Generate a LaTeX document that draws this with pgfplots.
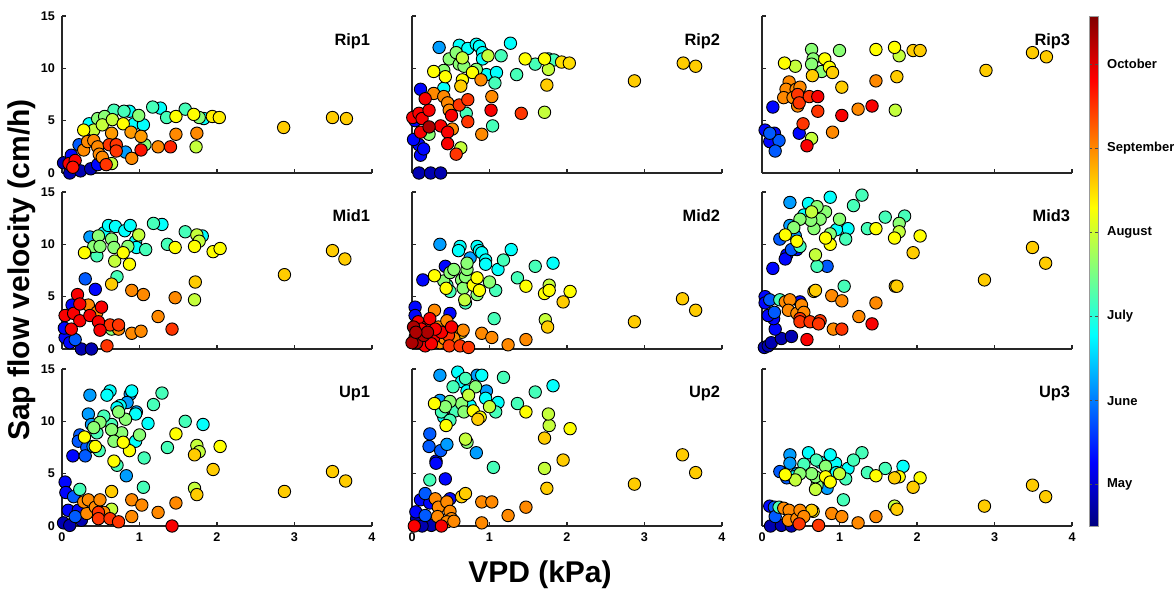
\documentclass[border=0pt]{standalone}
\usepackage{pgfplots}
\usepackage{pgfplotstable}
\pgfplotsset{compat=1.18}
\usepackage{fontspec}
\setmainfont{Liberation Sans}

\pgfplotstableread[row sep=\\]{x y c\\
0.02 0.97 -0.2\\ 0.10 0.00 -0.2\\ 0.24 0.20 -0.2\\ 0.37 0.40 -0.2\\ 0.12 1.70 0.3\\ 0.46 0.80 0.3\\
0.22 2.70 0.8\\ 0.82 2.00 1.2\\ 0.35 4.70 1.8\\ 0.93 4.70 1.8\\ 1.05 4.60 1.8\\ 0.87 5.90 1.8\\ 1.27 6.20 1.8\\ 1.83 5.20 1.8\\
0.67 6.00 2.2\\ 0.80 5.90 2.2\\ 1.17 6.30 2.2\\ 1.35 5.30 2.2\\ 1.59 6.10 2.2\\
0.46 5.20 2.6\\ 0.55 5.40 2.6\\ 0.99 5.50 2.6\\ 1.77 5.30 2.6\\ 1.07 2.70 2.6\\
0.41 4.10 2.95\\ 0.52 4.60 2.95\\ 0.65 5.10 2.95\\ 0.64 0.90 2.95\\ 1.73 2.50 2.95\\
0.28 4.10 3.3\\ 0.79 4.70 3.3\\ 1.47 5.40 3.3\\ 1.70 5.60 3.3\\ 1.94 5.40 3.4\\ 2.03 5.30 3.4\\
2.86 4.35 3.6\\ 3.49 5.30 3.6\\ 3.67 5.20 3.6\\
0.28 2.20 4.0\\ 0.33 3.00 4.0\\ 0.41 3.10 4.0\\ 0.46 2.50 4.0\\ 0.48 1.80 4.0\\ 0.52 1.50 4.0\\ 0.64 3.80 3.9\\
0.90 1.40 4.0\\ 0.89 3.90 3.9\\ 1.02 3.50 3.9\\ 1.24 2.50 4.0\\ 1.47 3.70 4.0\\ 1.74 3.80 4.0\\
0.57 0.80 4.5\\ 0.61 2.70 4.5\\ 0.70 2.70 4.5\\ 0.70 2.10 4.5\\ 1.02 2.20 4.7\\ 1.40 2.50 4.6\\
0.09 0.90 4.85\\ 0.17 1.20 4.85\\ 0.14 0.55 4.7\\
}\ripone

\pgfplotstableread[row sep=\\]{x y c\\
0.09 0 -0.2\\ 0.24 0 -0.2\\ 0.37 0 -0.2\\
0.11 1.7 0.3\\ 0.09 2.7 0.3\\ 0.02 3.2 0.3\\ 0.15 2.3 0.3\\ 0.04 5.0 0.3\\ 0.11 8.0 0.3\\
0.35 12.0 1.2\\
0.41 8.1 1.8\\ 0.61 12.2 1.8\\ 0.72 11.9 1.8\\ 0.83 12.3 1.8\\ 0.87 12.1 1.8\\ 0.91 11.5 1.8\\ 0.91 10.9 1.8\\ 0.96 9.4 1.8\\ 1.09 9.6 1.8\\ 1.27 12.4 1.8\\
0.70 5.7 2.2\\ 1.04 4.5 2.2\\ 1.07 8.6 2.2\\ 1.15 11.2 2.2\\ 1.35 9.4 2.2\\ 1.59 10.4 2.2\\ 1.76 10.9 2.2\\ 1.83 10.8 2.2\\
0.22 3.7 2.6\\ 0.41 9.8 2.6\\ 0.48 10.9 2.6\\ 0.57 11.5 2.6\\ 0.61 10.4 2.6\\ 0.67 10.2 2.6\\ 0.83 9.9 2.6\\
0.63 2.4 2.95\\ 0.65 11.0 2.95\\ 0.98 11.2 2.95\\ 1.71 5.8 2.95\\ 1.76 9.9 2.95\\
0.43 9.2 3.3\\ 0.28 9.7 3.3\\ 0.78 9.6 3.3\\ 0.65 8.9 3.3\\ 1.46 10.9 3.3\\ 1.71 10.9 3.3\\
1.93 10.6 3.5\\ 2.03 10.5 3.5\\
0.63 8.3 3.6\\ 1.74 8.4 3.6\\ 2.87 8.8 3.6\\ 3.50 10.5 3.6\\ 3.66 10.2 3.6\\
0.28 7.6 4.0\\ 0.41 7.3 4.0\\ 0.46 6.7 4.0\\ 0.48 6.0 4.0\\ 0.52 4.2 4.0\\ 0.89 8.9 4.0\\ 0.90 3.7 4.0\\ 1.03 7.3 4.0\\
0.57 1.8 4.5\\ 0.61 6.5 4.5\\ 0.72 7.0 4.5\\ 0.72 4.9 4.5\\ 1.41 5.7 4.5\\
0.01 5.3 4.85\\ 0.09 5.7 4.85\\ 0.13 5.2 4.85\\ 0.22 6.0 4.85\\ 0.17 7.1 4.85\\ 0.11 3.9 4.85\\ 0.37 4.5 4.85\\ 0.46 3.9 4.85\\ 0.46 2.8 4.85\\ 0.51 5.5 4.85\\ 1.02 6.0 4.85\\
0.22 4.4 5.3\\
}\riptwo

\pgfplotstableread[row sep=\\]{x y c\\
0.04 4.1 0.3\\ 0.10 3.0 0.3\\ 0.16 3.8 0.3\\ 0.14 6.3 0.3\\ 0.48 3.8 0.3\\
0.22 3.1 0.8\\ 0.17 2.1 0.8\\ 0.10 3.8 0.8\\
0.64 11.8 2.6\\ 0.66 10.9 2.6\\ 0.64 10.4 2.6\\ 0.77 9.7 2.6\\ 1.00 11.7 2.6\\
0.43 10.2 2.95\\ 1.77 11.2 2.95\\ 1.72 6.0 2.95\\ 0.64 3.3 2.95\\
0.29 10.5 3.3\\ 0.81 10.9 3.3\\ 0.87 10.1 3.3\\ 1.47 11.8 3.3\\ 1.71 12.0 3.3\\
0.91 9.6 3.6\\ 0.65 9.3 3.6\\ 1.03 8.2 3.6\\ 1.74 9.2 3.6\\ 1.95 11.7 3.6\\ 2.04 11.7 3.6\\ 2.89 9.8 3.6\\ 3.49 11.5 3.6\\ 3.67 11.1 3.6\\
0.35 8.7 4.0\\ 0.31 8.0 4.0\\ 0.44 8.0 4.0\\ 0.49 8.2 4.0\\ 0.28 7.2 4.0\\ 0.40 7.2 4.0\\ 0.46 6.4 4.0\\ 0.91 3.9 4.0\\ 1.24 6.1 4.0\\ 1.47 8.8 4.0\\
0.46 7.5 4.5\\ 0.48 6.7 4.5\\ 0.61 7.3 4.5\\ 0.72 5.9 4.5\\ 0.53 4.7 4.5\\
0.72 7.3 4.85\\ 0.58 2.6 4.85\\ 1.03 5.5 4.85\\ 1.42 6.4 4.85\\
}\ripthree

\pgfplotstableread[row sep=\\]{x y c\\
0.25 0 -0.2\\ 0.38 0 -0.2\\
0.04 1.1 0.3\\ 0.03 2.0 0.3\\ 0.10 0.6 0.3\\ 0.13 4.2 0.3\\ 0.43 5.7 0.3\\
0.17 0.9 0.8\\ 0.30 6.7 0.8\\ 0.36 10.7 1.2\\
0.54 11.1 1.8\\ 0.60 11.8 1.8\\ 0.69 11.7 1.8\\ 0.81 11.3 1.8\\ 0.88 11.8 1.8\\ 0.95 10.3 1.8\\ 0.96 9.7 1.8\\ 1.29 11.9 1.8\\ 1.81 10.8 1.8\\
0.45 8.9 2.2\\ 0.71 6.9 2.2\\ 1.08 9.5 2.2\\ 1.18 12.0 2.2\\ 1.36 10.0 2.2\\ 1.59 11.2 2.2\\
0.41 9.8 2.6\\ 0.47 10.8 2.6\\ 0.49 9.8 2.6\\ 0.64 10.5 2.6\\ 0.67 9.7 2.6\\ 0.85 9.8 2.6\\ 0.64 1.9 2.6\\
0.68 8.4 2.95\\ 0.99 10.9 2.95\\ 1.74 10.9 2.95\\ 1.77 10.3 2.95\\ 1.71 4.7 2.95\\
0.29 9.2 3.3\\ 0.79 9.2 3.3\\ 0.87 8.1 3.3\\ 1.46 9.7 3.3\\ 1.71 9.8 3.3\\ 1.95 9.3 3.3\\ 2.04 9.6 3.3\\
0.64 6.2 3.6\\ 1.72 6.4 3.6\\ 2.87 7.1 3.6\\ 3.49 9.4 3.6\\ 3.65 8.6 3.6\\
0.34 4.2 4.0\\ 0.45 3.5 4.0\\ 0.73 1.9 4.0\\ 0.90 1.5 4.0\\ 1.02 1.7 4.0\\ 1.24 3.1 4.0\\ 1.46 4.9 4.0\\ 0.90 5.6 4.0\\ 1.05 5.2 4.0\\
0.58 0.3 4.5\\ 0.62 2.3 4.5\\ 0.73 2.3 4.5\\ 1.42 1.9 4.5\\
0.04 3.2 4.85\\ 0.15 3.4 4.85\\ 0.20 5.2 4.85\\ 0.23 4.3 4.85\\ 0.23 2.7 4.85\\ 0.12 1.9 4.85\\ 0.36 3.2 4.85\\ 0.47 2.6 4.85\\ 0.49 1.8 4.85\\ 0.51 4.0 4.85\\
}\midone

\pgfplotstableread[row sep=\\]{x y c\\
0.12 0.6 -0.2\\
0.04 4.0 0.3\\ 0.04 3.2 0.3\\ 0.14 6.6 0.3\\ 0.43 7.9 0.3\\ 0.49 3.4 0.3\\
0.36 10.0 1.2\\ 0.75 8.7 1.2\\
0.62 9.8 1.8\\ 0.60 9.4 1.8\\ 0.84 9.8 1.8\\ 0.87 9.4 1.8\\ 0.90 9.2 1.8\\ 0.95 8.5 1.8\\ 0.95 8.1 1.8\\ 1.11 7.6 1.8\\ 1.28 9.5 1.8\\ 1.82 8.2 1.8\\
0.45 6.1 2.2\\ 0.49 5.5 2.2\\ 0.69 4.4 2.2\\ 1.06 2.9 2.2\\ 1.08 5.6 2.2\\ 1.18 8.5 2.2\\ 1.36 6.8 2.2\\ 1.59 7.9 2.2\\
0.41 6.5 2.6\\ 0.49 7.3 2.6\\ 0.54 7.6 2.6\\ 0.64 6.6 2.6\\ 0.66 5.8 2.6\\ 0.69 6.9 2.6\\ 0.71 7.6 2.6\\ 0.71 8.2 2.6\\ 0.84 5.2 2.6\\ 1.00 6.4 2.6\\
0.68 4.7 2.95\\ 1.72 2.8 2.95\\ 1.77 6.1 2.95\\
0.29 7.0 3.3\\ 0.44 5.8 3.3\\ 0.79 6.1 3.3\\ 0.84 6.8 3.3\\ 0.87 5.6 3.3\\ 1.47 6.0 3.3\\ 1.71 5.3 3.3\\ 1.77 5.6 3.3\\ 2.04 5.5 3.3\\
0.64 1.6 3.6\\ 1.75 2.1 3.6\\ 1.95 4.5 3.6\\ 2.87 2.6 3.6\\ 3.49 4.8 3.6\\ 3.66 3.7 3.6\\
0.29 3.7 4.0\\ 0.34 2.1 4.0\\ 0.36 0.6 4.0\\ 0.45 2.7 4.0\\ 0.54 1.0 4.0\\ 0.66 1.8 4.0\\ 0.42 1.0 4.0\\ 0.90 1.5 4.0\\ 1.03 1.1 4.0\\ 1.24 0.4 4.0\\ 1.47 0.9 4.0\\
0.47 1.3 4.5\\ 0.48 0.3 4.5\\ 0.62 0.3 4.5\\ 0.73 0.15 4.5\\
0.10 1.6 4.85\\ 0.08 2.6 4.85\\ 0.17 0.3 4.85\\ 0.21 2.3 4.85\\ 0.23 2.9 4.85\\ 0.28 1.1 4.85\\ 0.38 1.6 4.85\\ 0.51 2.1 4.85\\ 0.12 1.9 4.85\\ 0.30 1.9 4.85\\ 0.25 0.5 4.85\\
0.02 2.1 5.3\\ 0.04 1.1 5.3\\ 0.06 0.6 5.3\\ 0.15 1.3 5.3\\ 0.00 0.6 5.3\\ 0.20 1.6 5.3\\ 0.05 1.6 5.3\\
}\midtwo

\pgfplotstableread[row sep=\\]{x y c\\
0.03 0.15 -0.2\\ 0.08 0.3 -0.2\\ 0.12 0.6 -0.2\\ 0.25 1.0 -0.2\\ 0.38 1.2 -0.2\\
0.17 1.9 0.3\\ 0.15 2.9 0.3\\ 0.08 3.2 0.3\\ 0.04 5.0 0.3\\ 0.04 4.4 0.3\\ 0.49 4.5 0.3\\ 0.14 7.7 0.3\\ 0.45 9.5 0.3\\ 0.32 9.0 0.3\\ 0.30 8.6 0.3\\
0.16 3.5 0.8\\ 0.10 4.7 0.8\\ 0.84 7.9 0.8\\ 0.23 10.5 0.8\\ 0.38 9.5 0.8\\
0.36 14.0 1.2\\ 0.36 11.8 1.2\\ 0.43 10.8 1.2\\
1.11 11.5 1.8\\ 0.96 11.4 1.8\\ 0.88 14.5 1.8\\ 0.60 13.9 1.8\\ 0.54 12.8 1.8\\
0.23 4.7 2.2\\ 1.06 6.0 2.2\\ 1.84 12.7 2.2\\ 1.59 12.6 2.2\\ 1.36 11.5 2.2\\ 1.29 14.7 2.2\\ 1.18 13.7 2.2\\ 1.08 10.5 2.2\\ 0.71 7.9 2.2\\ 0.49 9.8 2.2\\
1.77 12.0 2.6\\ 1.00 12.4 2.6\\ 0.82 13.1 2.6\\ 0.88 11.0 2.6\\ 0.75 12.4 2.6\\ 0.71 13.6 2.6\\ 0.67 11.5 2.6\\ 0.63 12.3 2.6\\ 0.49 12.4 2.6\\ 0.41 11.6 2.6\\
1.77 11.2 2.95\\ 0.69 9.0 2.95\\ 0.64 13.1 2.95\\
2.04 10.8 3.3\\ 1.71 10.6 3.3\\ 1.47 11.5 3.3\\ 0.88 10.0 3.3\\ 0.82 10.6 3.3\\ 0.30 10.9 3.3\\ 0.45 10.3 3.3\\
0.67 5.5 3.6\\ 0.69 5.6 3.6\\ 1.72 6.0 3.6\\ 1.74 6.0 3.6\\ 2.87 6.6 3.6\\ 3.49 9.7 3.6\\ 3.66 8.2 3.6\\ 1.95 9.2 3.6\\
0.30 4.5 4.0\\ 0.36 4.7 4.0\\ 0.34 3.7 4.0\\ 0.45 3.4 4.0\\ 0.51 4.2 4.0\\ 0.54 3.5 4.0\\ 0.92 1.9 4.0\\ 1.25 3.1 4.0\\ 1.47 4.4 4.0\\ 0.90 5.1 4.0\\ 1.03 4.6 4.0\\
0.49 2.9 4.5\\ 0.49 2.6 4.5\\ 0.62 2.6 4.5\\ 0.75 2.7 4.5\\ 0.73 2.4 4.5\\ 1.03 1.9 4.5\\
0.58 0.9 4.85\\ 1.42 2.4 4.85\\
}\midthree

\pgfplotstableread[row sep=\\]{x y c\\
0.02 0.3 -0.2\\ 0.10 0.06 -0.2\\ 0.25 0.55 -0.2\\
0.08 1.5 0.3\\ 0.21 1.5 0.3\\ 0.04 4.2 0.3\\ 0.05 3.2 0.3\\ 0.14 6.7 0.3\\
0.17 0.9 0.8\\ 0.15 2.8 0.8\\ 0.23 8.7 0.8\\ 0.21 8.1 0.8\\ 0.32 7.5 0.8\\ 0.30 6.7 0.8\\
0.83 4.8 1.2\\ 0.96 10.9 1.2\\ 0.88 12.6 1.2\\ 0.84 11.8 1.2\\ 0.34 10.7 1.2\\ 0.36 12.5 1.2\\ 0.38 9.7 1.2\\ 0.40 7.6 1.2\\
1.82 9.7 1.8\\ 1.11 9.8 1.8\\ 0.95 8.1 1.8\\ 0.95 10.7 1.8\\ 0.90 12.9 1.8\\ 0.75 11.5 1.8\\ 0.71 11.3 1.8\\ 0.62 12.9 1.8\\ 0.58 12.5 1.8\\
0.23 3.5 2.2\\ 1.05 3.7 2.2\\ 1.36 7.5 2.2\\ 1.59 10.0 2.2\\ 1.29 12.7 2.2\\ 1.18 11.6 2.2\\ 1.06 6.5 2.2\\ 0.64 9.7 2.2\\ 0.71 5.8 2.2\\ 0.54 10.5 2.2\\ 0.45 8.9 2.2\\ 0.48 7.2 2.2\\
1.00 8.7 2.6\\ 0.82 10.2 2.6\\ 0.77 8.9 2.6\\ 0.73 10.9 2.6\\ 0.64 9.2 2.6\\ 0.67 8.1 2.6\\ 0.49 9.9 2.6\\ 0.41 9.4 2.6\\
0.64 1.6 2.95\\ 1.71 3.6 2.95\\ 1.74 7.7 2.95\\ 1.77 7.1 2.95\\
2.04 7.6 3.3\\ 1.47 8.8 3.3\\ 0.87 7.2 3.3\\ 0.79 8.0 3.3\\ 0.67 6.2 3.3\\ 0.43 7.6 3.3\\ 0.29 8.5 3.3\\
0.64 3.3 3.6\\ 1.74 3.0 3.6\\ 2.87 3.3 3.6\\ 3.49 5.2 3.6\\ 3.66 4.3 3.6\\ 1.95 5.4 3.6\\ 1.71 6.8 3.6\\
0.32 1.2 4.0\\ 0.28 2.3 4.0\\ 0.34 2.5 4.0\\ 0.43 1.8 4.0\\ 0.49 2.5 4.0\\ 0.54 1.3 4.0\\ 0.90 0.9 4.0\\ 0.90 2.5 4.0\\ 1.03 2.0 4.0\\ 1.24 1.3 4.0\\ 1.47 2.2 4.0\\
0.47 1.3 4.5\\ 0.47 0.7 4.5\\ 0.62 0.7 4.5\\ 0.73 0.4 4.5\\
1.42 0 4.85\\
}\upone

\pgfplotstableread[row sep=\\]{x y c\\
0.06 0.7 -0.2\\ 0.25 0.06 -0.2\\ 0.13 0 -0.2\\
0.05 1.35 0.3\\ 0.11 2.5 0.3\\ 0.23 2.2 0.3\\ 0.49 2.6 0.3\\ 0.43 4.5 0.3\\ 0.31 6.2 0.3\\ 0.31 6.0 0.3\\
0.17 1.0 0.8\\ 0.17 3.1 0.8\\ 0.23 8.8 0.8\\ 0.22 7.6 0.8\\ 0.37 7.2 0.8\\
0.83 7.0 1.2\\ 0.96 12.9 1.2\\ 0.84 14.4 1.2\\ 0.36 12.0 1.2\\ 0.36 14.4 1.2\\ 0.45 7.8 1.2\\
1.82 13.4 1.8\\ 1.11 11.8 1.8\\ 0.95 12.2 1.8\\ 0.90 14.4 1.8\\ 0.75 11.5 1.8\\ 0.59 14.7 1.8\\ 0.64 13.8 1.8\\ 0.71 12.9 1.8\\ 0.41 10.4 1.8\\
0.23 4.4 2.2\\ 1.05 5.6 2.2\\ 1.36 11.7 2.2\\ 1.59 12.8 2.2\\ 1.18 14.2 2.2\\ 1.08 10.9 2.2\\ 0.69 14.1 2.2\\ 0.53 13.3 2.2\\ 0.56 11.0 2.2\\ 0.38 10.9 2.2\\ 0.49 10.1 2.2\\
0.82 13.3 2.6\\ 0.71 8.0 2.6\\ 0.64 11.7 2.6\\ 0.67 10.9 2.6\\ 0.49 11.9 2.6\\ 0.43 11.4 2.6\\
1.71 5.5 2.95\\ 1.77 9.6 2.95\\ 1.76 10.7 2.95\\ 1.00 11.4 2.95\\ 0.73 12.5 2.95\\ 0.69 8.3 2.95\\
2.04 9.3 3.3\\ 1.47 10.9 3.3\\ 0.79 11.0 3.3\\ 0.88 10.4 3.3\\ 0.29 11.7 3.3\\ 0.44 9.6 3.3\\
0.64 2.8 3.6\\ 0.69 3.1 3.6\\ 1.74 3.6 3.6\\ 2.87 4.0 3.6\\ 3.49 6.8 3.6\\ 3.66 5.1 3.6\\ 1.95 6.3 3.6\\ 1.71 8.4 3.6\\ 0.85 10.2 3.6\\
0.30 2.6 4.0\\ 0.34 1.8 4.0\\ 0.33 0.9 4.0\\ 0.45 2.3 4.0\\ 0.49 1.4 4.0\\ 0.51 0.7 4.0\\ 0.45 0.4 4.0\\ 0.54 0.45 4.0\\ 0.90 2.3 4.0\\ 1.03 2.3 4.0\\ 0.90 0.3 4.0\\ 1.24 1.0 4.0\\ 1.47 1.8 4.0\\
0.03 0 4.85\\ 0.38 0 4.85\\
}\uptwo

\pgfplotstableread[row sep=\\]{x y c\\
0.11 0 -0.2\\ 0.25 0.06 -0.2\\ 0.38 0 -0.2\\
0.10 1.9 0.3\\
0.16 1.8 0.8\\ 0.17 0.9 0.8\\ 0.23 5.2 0.8\\ 0.32 4.6 0.8\\
0.84 3.6 1.2\\ 0.36 6.8 1.2\\ 0.36 6.0 1.2\\ 0.45 5.0 1.2\\
1.82 5.7 1.8\\ 1.11 5.5 1.8\\ 0.95 6.0 1.8\\ 0.88 6.8 1.8\\ 0.75 6.1 1.8\\ 0.60 7.0 1.8\\ 0.41 4.7 1.8\\ 0.96 5.1 1.8\\
0.22 1.8 2.2\\ 1.05 2.5 2.2\\ 1.36 5.1 2.2\\ 1.59 5.5 2.2\\ 1.29 7.0 2.2\\ 1.18 6.3 2.2\\ 1.08 4.5 2.2\\ 0.70 6.3 2.2\\ 0.54 5.9 2.2\\
0.82 5.7 2.6\\ 0.71 3.9 2.6\\ 0.69 4.7 2.6\\ 0.64 5.0 2.6\\ 0.49 5.0 2.6\\
1.71 1.9 2.95\\ 1.00 5.0 2.95\\ 0.69 3.5 2.95\\ 0.43 4.4 2.95\\
0.66 1.4 3.3\\ 2.04 4.6 3.3\\ 1.77 4.7 3.3\\ 1.47 4.8 3.3\\ 0.82 4.7 3.3\\ 0.88 4.2 3.3\\ 0.30 4.9 3.3\\
0.64 1.5 3.6\\ 1.74 1.6 3.6\\ 2.87 1.9 3.6\\ 3.49 3.9 3.6\\ 3.66 2.8 3.6\\ 1.95 3.7 3.6\\ 1.71 4.6 3.6\\
0.28 1.7 4.0\\ 0.35 1.5 4.0\\ 0.34 0.55 4.0\\ 0.45 0.7 4.0\\ 0.49 1.5 4.0\\ 0.54 0.9 4.0\\ 0.90 1.2 4.0\\ 1.03 0.9 4.0\\ 1.24 0.3 4.0\\ 1.47 0.9 4.0\\
0.48 0.2 4.5\\ 0.73 0.06 4.5\\
}\upthree

\pgfplotsset{
  /pgf/number format/assume math mode=true,
  panel/.style={
    scale only axis, width=155pt, height=78.5pt, anchor=south west,
    xmin=0, xmax=4, ymin=0, ymax=15,
    axis lines=left, axis line style={-, line width=0.55pt, black!85},
    tick align=inside, major tick length=2pt,
    tick style={line width=0.55pt, black!85},
    xtick={0,1,2,3,4}, ytick={0,5,10,15},
    ticklabel style={font=\fontsize{6.3}{7}\selectfont\bfseries},
    clip=false, colormap/jet, point meta min=-0.49, point meta max=5.57,
  },
  pts/.style={scatter, only marks, mark=*, mark size=3.1pt,
    point meta=explicit,
    scatter/use mapped color={draw=black, fill=mapped color},
    mark options={line width=0.45pt}},
}
\tikzset{lab/.style={anchor=north east, inner sep=0pt, font=\fontsize{8.2}{9}\selectfont\bfseries}}

\begin{document}
\begin{tikzpicture}
\path[use as bounding box] (0,0) rectangle (587pt,-296.5pt);

% row 1
\begin{axis}[panel, at={(31pt,-86.5pt)}, xticklabels={}]
\addplot[pts] table[meta=c] {\ripone};
\node[lab] at (axis cs:3.98,13.4) {Rip1};
\end{axis}
\begin{axis}[panel, at={(206pt,-86.5pt)}, xticklabels={}, yticklabels={}]
\addplot[pts] table[meta=c] {\riptwo};
\node[lab] at (axis cs:3.98,13.4) {Rip2};
\end{axis}
\begin{axis}[panel, at={(381pt,-86.5pt)}, xticklabels={}, yticklabels={},
  colorbar,
  colorbar style={scale only axis, width=4.5pt, height=255pt, anchor=north west,
    at={([xshift=6pt,yshift=0.5pt]parent axis.north east)},
    ytick={0,1,2,3,4,5}, yticklabels={May,June,July,August,September,October},
    yticklabel pos=right, tick align=inside, major tick length=1.5pt,
    tick style={line width=0.4pt, black!70},
    axis line style={line width=0.2pt, black!40},
    yticklabel style={font=\fontsize{6.5}{7}\selectfont\bfseries, xshift=1pt}}]
\addplot[pts] table[meta=c] {\ripthree};
\node[lab] at (axis cs:3.98,13.4) {Rip3};
\end{axis}

% row 2
\begin{axis}[panel, at={(31pt,-174.5pt)}, xticklabels={}]
\addplot[pts] table[meta=c] {\midone};
\node[lab] at (axis cs:3.98,13.4) {Mid1};
\end{axis}
\begin{axis}[panel, at={(206pt,-174.5pt)}, xticklabels={}, yticklabels={}]
\addplot[pts] table[meta=c] {\midtwo};
\node[lab] at (axis cs:3.98,13.4) {Mid2};
\end{axis}
\begin{axis}[panel, at={(381pt,-174.5pt)}, xticklabels={}, yticklabels={}]
\addplot[pts] table[meta=c] {\midthree};
\node[lab] at (axis cs:3.98,13.4) {Mid3};
\end{axis}

% row 3
\begin{axis}[panel, at={(31pt,-263pt)}]
\addplot[pts] table[meta=c] {\upone};
\node[lab] at (axis cs:3.98,13.4) {Up1};
\end{axis}
\begin{axis}[panel, at={(206pt,-263pt)}, yticklabels={}]
\addplot[pts] table[meta=c] {\uptwo};
\node[lab] at (axis cs:3.98,13.4) {Up2};
\end{axis}
\begin{axis}[panel, at={(381pt,-263pt)}, yticklabels={}]
\addplot[pts] table[meta=c] {\upthree};
\node[lab] at (axis cs:3.98,13.4) {Up3};
\end{axis}

\node[rotate=90, font=\fontsize{15}{18}\selectfont\bfseries] at (10.75pt,-135pt) {Sap flow velocity (cm/h)};
\node[font=\fontsize{15}{18}\selectfont\bfseries] at (270pt,-287.5pt) {VPD (kPa)};
\end{tikzpicture}
\end{document}
